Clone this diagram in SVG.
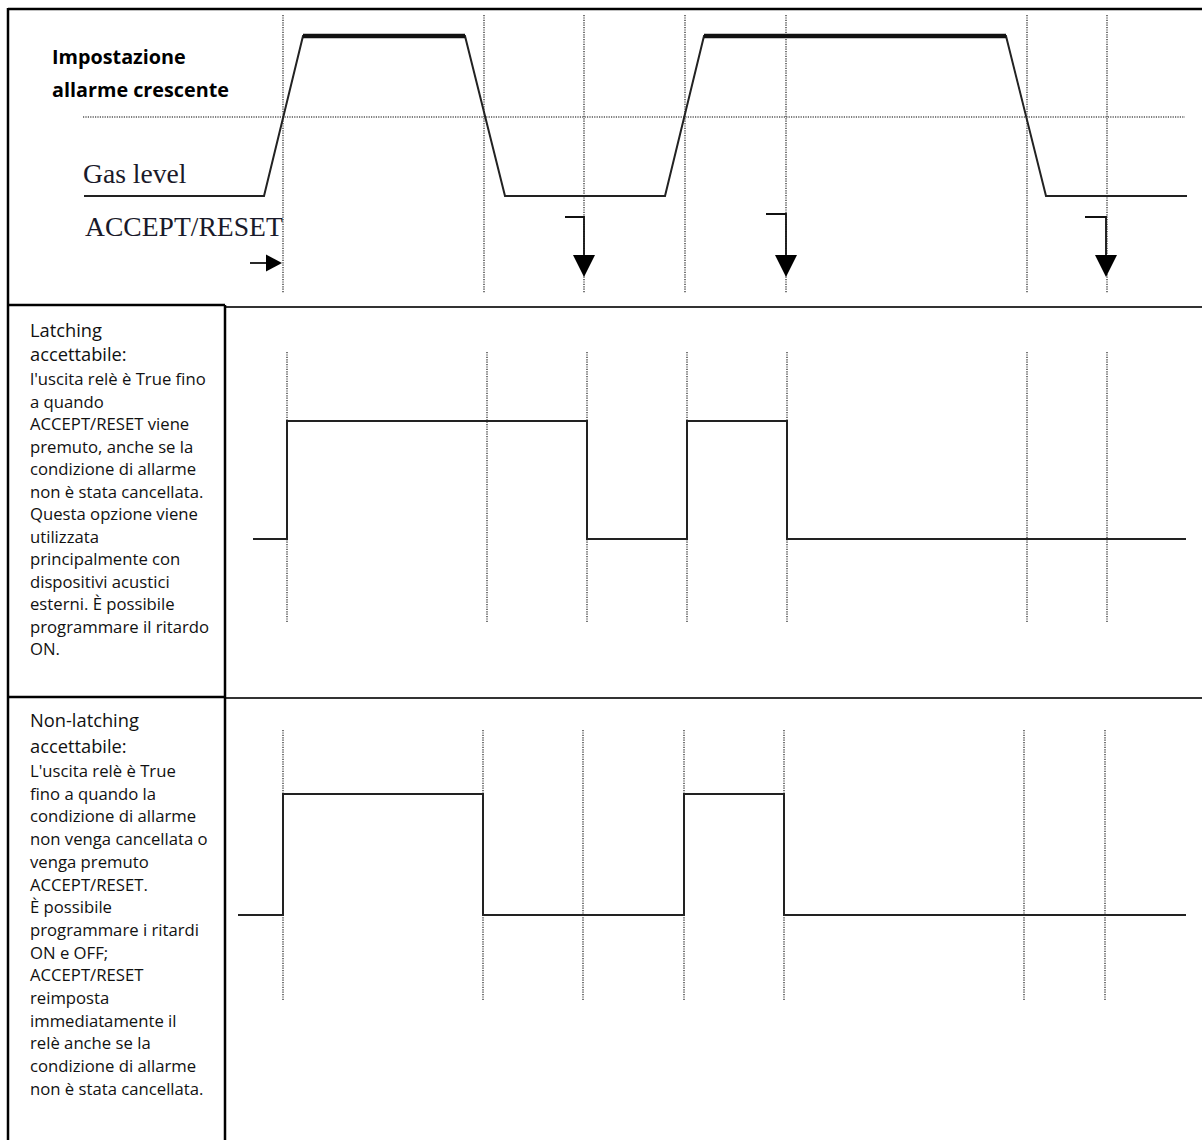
<svg xmlns="http://www.w3.org/2000/svg" width="1202" height="1140" viewBox="0 0 1202 1140">
<defs>
<style>
.frame{stroke:#000;stroke-width:2.5;fill:none}
.sep{stroke:#333;stroke-width:2;fill:none}
.grid{stroke:#555;stroke-width:1.6;stroke-dasharray:1.2 1.2;fill:none}
.wave{stroke:#222;stroke-width:2;fill:none;stroke-linejoin:miter}
.thick{stroke:#111;stroke-width:4.5;fill:none}
.arrow{stroke:#111;stroke-width:1.8;fill:none}
.title{font-family:"Open Sans","Liberation Sans",sans-serif;font-weight:bold;font-size:19.8px;fill:#000}
.serif{font-family:"Liberation Serif","DejaVu Serif",serif;font-size:27.6px;fill:#1a1a2a}
.head{font-family:"Open Sans","Liberation Sans",sans-serif;font-size:18.3px;fill:#111}
.body{font-family:"Open Sans","Liberation Sans",sans-serif;font-size:16.7px;fill:#111}
</style>
<marker id="down" markerUnits="userSpaceOnUse" markerWidth="22" markerHeight="22" refX="0" refY="10.5" orient="auto" viewBox="0 0 21 21">
<path d="M0,0 L21,10.5 L0,21 Z" fill="#000"/>
</marker>
<marker id="right" markerUnits="userSpaceOnUse" markerWidth="16" markerHeight="18" refX="0" refY="8.5" orient="auto" viewBox="0 0 16 17">
<path d="M0,0 L16,8.5 L0,17 Z" fill="#000"/>
</marker>
</defs>
<rect width="1202" height="1140" fill="#fff"/>

<g id="frame">
<line class="frame" x1="8" y1="9" x2="1202" y2="9"/>
<line class="frame" x1="8" y1="8" x2="8" y2="1140"/>
<line class="frame" x1="8" y1="305" x2="225" y2="305"/>
<line class="sep" x1="225" y1="307" x2="1202" y2="307"/>
<line class="frame" x1="8" y1="697" x2="225" y2="697"/>
<line class="sep" x1="225" y1="698" x2="1202" y2="698"/>
<line class="frame" x1="225" y1="305" x2="225" y2="1140"/>
</g>

<g id="input-panel">
<g id="input-grid">
<line class="grid" x1="83" y1="117" x2="1185" y2="117"/>
<line class="grid" x1="283" y1="15" x2="283" y2="293"/>
<line class="grid" x1="484" y1="15" x2="484" y2="293"/>
<line class="grid" x1="584" y1="15" x2="584" y2="293"/>
<line class="grid" x1="685" y1="15" x2="685" y2="293"/>
<line class="grid" x1="786" y1="15" x2="786" y2="293"/>
<line class="grid" x1="1027" y1="15" x2="1027" y2="293"/>
<line class="grid" x1="1107" y1="15" x2="1107" y2="293"/>
</g>
<g id="gas-level">
<path class="wave" d="M84,196 H264 L303,36 H465 L505,196 H665 L704,36 H1006 L1046,196 H1187"/>
<line class="thick" x1="303" y1="36" x2="465" y2="36"/>
<line class="thick" x1="704" y1="36" x2="1006" y2="36"/>
</g>
<text class="title" x="52" y="64">Impostazione</text>
<text class="title" x="52" y="97">allarme crescente</text>
<text class="serif" x="83" y="183">Gas level</text>
<text class="serif" x="85" y="236">ACCEPT/RESET</text>
</g>

<g id="connectors">
<line class="arrow" x1="250" y1="263" x2="266" y2="263" marker-end="url(#right)"/>
<path class="arrow" d="M565,217 H584 V255" marker-end="url(#down)"/>
<path class="arrow" d="M766,214 H786 V255" marker-end="url(#down)"/>
<path class="arrow" d="M1085,217 H1106 V255" marker-end="url(#down)"/>
</g>

<g id="latching-label">
<text class="head" x="30" y="337">Latching</text>
<text class="head" x="30" y="361">accettabile:</text>
<text class="body" x="30" y="385">l'uscita relè è True fino</text>
<text class="body" x="30" y="407.5">a quando</text>
<text class="body" x="30" y="430">ACCEPT/RESET viene</text>
<text class="body" x="30" y="452.5">premuto, anche se la</text>
<text class="body" x="30" y="475">condizione di allarme</text>
<text class="body" x="30" y="497.5">non è stata cancellata.</text>
<text class="body" x="30" y="520">Questa opzione viene</text>
<text class="body" x="30" y="542.5">utilizzata</text>
<text class="body" x="30" y="565">principalmente con</text>
<text class="body" x="30" y="587.5">dispositivi  acustici</text>
<text class="body" x="30" y="610">esterni. È possibile</text>
<text class="body" x="30" y="632.5">programmare il ritardo</text>
<text class="body" x="30" y="655">ON.</text>
</g>

<g id="latching-chart">
<line class="grid" x1="287" y1="352" x2="287" y2="622"/>
<line class="grid" x1="487" y1="352" x2="487" y2="622"/>
<line class="grid" x1="587" y1="352" x2="587" y2="622"/>
<line class="grid" x1="687" y1="352" x2="687" y2="622"/>
<line class="grid" x1="787" y1="352" x2="787" y2="622"/>
<line class="grid" x1="1027" y1="352" x2="1027" y2="622"/>
<line class="grid" x1="1107" y1="352" x2="1107" y2="622"/>
<path class="wave" d="M253,539 H287 V421 H587 V539 H687 V421 H787 V539 H1186"/>
</g>

<g id="nonlatching-label">
<text class="head" x="30" y="727">Non-latching</text>
<text class="head" x="30" y="753">accettabile:</text>
<text class="body" x="30" y="777">L'uscita relè è True</text>
<text class="body" x="30" y="799.7">fino a quando la</text>
<text class="body" x="30" y="822.4">condizione di allarme</text>
<text class="body" x="30" y="845.1">non venga cancellata o</text>
<text class="body" x="30" y="867.8">venga premuto</text>
<text class="body" x="30" y="890.5">ACCEPT/RESET.</text>
<text class="body" x="30" y="913.2">È possibile</text>
<text class="body" x="30" y="935.9">programmare i ritardi</text>
<text class="body" x="30" y="958.6">ON e OFF;</text>
<text class="body" x="30" y="981.3">ACCEPT/RESET</text>
<text class="body" x="30" y="1004">reimposta</text>
<text class="body" x="30" y="1026.7">immediatamente il</text>
<text class="body" x="30" y="1049.4">relè anche se la</text>
<text class="body" x="30" y="1072.1">condizione di allarme</text>
<text class="body" x="30" y="1094.8">non è stata cancellata.</text>
</g>

<g id="nonlatching-chart">
<line class="grid" x1="283" y1="730" x2="283" y2="1000"/>
<line class="grid" x1="483" y1="730" x2="483" y2="1000"/>
<line class="grid" x1="583" y1="730" x2="583" y2="1000"/>
<line class="grid" x1="684" y1="730" x2="684" y2="1000"/>
<line class="grid" x1="784" y1="730" x2="784" y2="1000"/>
<line class="grid" x1="1024" y1="730" x2="1024" y2="1000"/>
<line class="grid" x1="1105" y1="730" x2="1105" y2="1000"/>
<path class="wave" d="M238,915 H283 V794 H483 V915 H684 V794 H784 V915 H1186"/>
</g>
</svg>
